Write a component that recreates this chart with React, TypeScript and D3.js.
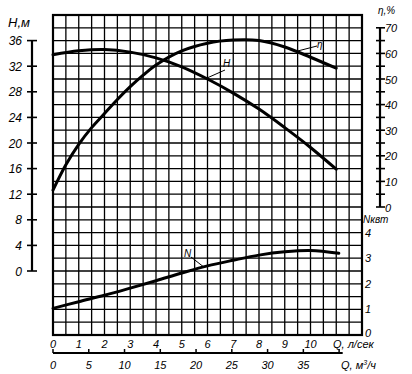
import { useEffect, useRef } from 'react';
import * as d3 from 'd3';

// Q, l/s  -> head H, m
const qH = [0, 1, 2, 3, 4, 5, 6, 7, 8, 9, 10, 11];
const headH = [33.8, 34.4, 34.6, 34.2, 33.3, 31.9, 30.0, 27.8, 25.3, 22.4, 19.3, 15.9];

// Q, l/s -> efficiency, %
const qEta = [0, 0.5, 1, 1.5, 2, 2.5, 3, 3.5, 4, 5, 6, 7, 8, 9, 10, 11];
const eta = [6.6, 16.5, 24.5, 31, 36.5, 42, 47, 51.5, 55.5, 61, 64, 65.2, 65, 62.5, 58.5, 54.2];

// Q, l/s -> power N, kW
const qN = [0, 1, 2, 3, 4, 5, 6, 7, 8, 9, 10, 11.1];
const powerN = [1.04, 1.3, 1.55, 1.83, 2.12, 2.42, 2.7, 2.92, 3.12, 3.25, 3.3, 3.19];

const hTicks = [0, 4, 8, 12, 16, 20, 24, 28, 32, 36];
const etaTicks = [0, 10, 20, 30, 40, 50, 60, 70];
const nTicks = [0, 1, 2, 3, 4];
const lpsTicks = [0, 1, 2, 3, 4, 5, 6, 7, 8, 9, 10];
const m3hTicks = [0, 5, 10, 15, 20, 25, 30, 35];

const FONT = '"Liberation Sans", Arial, sans-serif';

const App = () => {
    const svgRef = useRef(null);

    useEffect(() => {
        if (!svgRef.current) return;
        const svg = d3.select(svgRef.current);
        svg.selectAll('*').remove();

        const x = d3.scaleLinear().domain([0, 12]).range([53, 362]);
        const y = d3.scaleLinear().domain([-10, 40]).range([335, 15]);
        const yEta = d3.scaleLinear().domain([0, 70]).range([y(10), y(38)]);
        const yN = d3.scaleLinear().domain([0, 4]).range([y(-10), y(6)]);
        const xM3 = (v) => x(v / 3.6);

        // grid
        const grid = svg.append('g').attr('stroke', '#000').attr('stroke-width', 1.3);
        d3.range(0, 12.01, 0.5).forEach(v => {
            grid.append('line').attr('x1', x(v)).attr('x2', x(v)).attr('y1', y(40)).attr('y2', y(-10));
        });
        d3.range(-10, 40.01, 2).forEach(v => {
            grid.append('line').attr('x1', x(0)).attr('x2', x(12)).attr('y1', y(v)).attr('y2', y(v));
        });
        svg.append('rect')
            .attr('x', x(0)).attr('y', y(40))
            .attr('width', x(12) - x(0)).attr('height', y(-10) - y(40))
            .attr('fill', 'none').attr('stroke', '#000').attr('stroke-width', 2.2);

        const txt = (tx, ty, s, size = 11, anchor = 'start') =>
            svg.append('text')
                .attr('x', tx).attr('y', ty)
                .attr('font-family', FONT).attr('font-style', 'italic')
                .attr('font-size', size).attr('text-anchor', anchor)
                .attr('fill', '#000')
                .text(s);

        // left H axis
        svg.append('line').attr('x1', 32).attr('x2', 32).attr('y1', y(36)).attr('y2', y(0))
            .attr('stroke', '#000').attr('stroke-width', 2.2);
        hTicks.forEach(v => {
            svg.append('line').attr('x1', 27).attr('x2', 37).attr('y1', y(v)).attr('y2', y(v))
                .attr('stroke', '#000').attr('stroke-width', 1.6);
            txt(22, y(v) + 4.5, String(v), 12, 'end');
        });
        txt(8, 27, 'Н,м', 13);

        // right eta axis
        svg.append('line').attr('x1', 380).attr('x2', 380).attr('y1', yEta(70)).attr('y2', yEta(0))
            .attr('stroke', '#000').attr('stroke-width', 2.2);
        d3.range(0, 70.01, 5).forEach(v => {
            svg.append('line').attr('x1', 376).attr('x2', 385).attr('y1', yEta(v)).attr('y2', yEta(v))
                .attr('stroke', '#000').attr('stroke-width', 1.6);
        });
        etaTicks.forEach(v => txt(385, yEta(v) + 4.5, String(v), 11));
        txt(378, 14, 'η,%', 10);

        // N labels
        nTicks.forEach(v => txt(365, yN(v) + (v === 0 ? 2 : 4), String(v), 11));
        txt(363, 223, 'Nквт', 10);

        // Q l/s labels
        lpsTicks.forEach(v => txt(x(v), 348, String(v), 11, 'middle'));
        txt(333, 348, 'Q, л/сек', 11);

        // Q m3/h axis
        svg.append('line').attr('x1', xM3(0)).attr('x2', xM3(40.5)).attr('y1', 353).attr('y2', 353)
            .attr('stroke', '#000').attr('stroke-width', 2);
        d3.range(0, 40.01, 5).forEach(v => {
            svg.append('line').attr('x1', xM3(v)).attr('x2', xM3(v)).attr('y1', 349).attr('y2', 353)
                .attr('stroke', '#000').attr('stroke-width', 1.5);
        });
        m3hTicks.forEach(v => txt(xM3(v), 369, String(v), 11, 'middle'));
        const ql = txt(341, 369, 'Q, м', 11);
        ql.append('tspan').attr('dy', -4).attr('font-size', 7).text('3');
        ql.append('tspan').attr('dy', 4).text('/ч');

        // curves
        const drawCurve = (qs, vs, ys) => {
            const line = d3.line()
                .x((d, i) => x(qs[i]))
                .y(d => ys(d))
                .curve(d3.curveCatmullRom);
            svg.append('path').attr('d', line(vs))
                .attr('fill', 'none').attr('stroke', '#000').attr('stroke-width', 3)
                .attr('stroke-linecap', 'round');
        };
        drawCurve(qH, headH, y);
        drawCurve(qEta, eta, yEta);
        drawCurve(qN, powerN, yN);

        // curve labels with leaders
        const leader = (x1, y1, x2, y2) =>
            svg.append('line').attr('x1', x1).attr('y1', y1).attr('x2', x2).attr('y2', y2)
                .attr('stroke', '#000').attr('stroke-width', 1);
        leader(x(9.45), yEta(60.8), 317, 46);
        txt(317, 48, 'η', 10);
        leader(x(5.95), y(30.1), 225, 70);
        txt(223, 67, 'H', 10);
        leader(x(5.85), yN(2.66), 191, 257);
        txt(184, 257, 'N', 10);
    }, []);

    return (
        <div style={{ position: 'absolute', left: 0, top: 0 }}>
            <svg ref={svgRef} width={412} height={374} style={{ display: 'block', background: '#fff' }} />
        </div>
    );
};

export default App;
